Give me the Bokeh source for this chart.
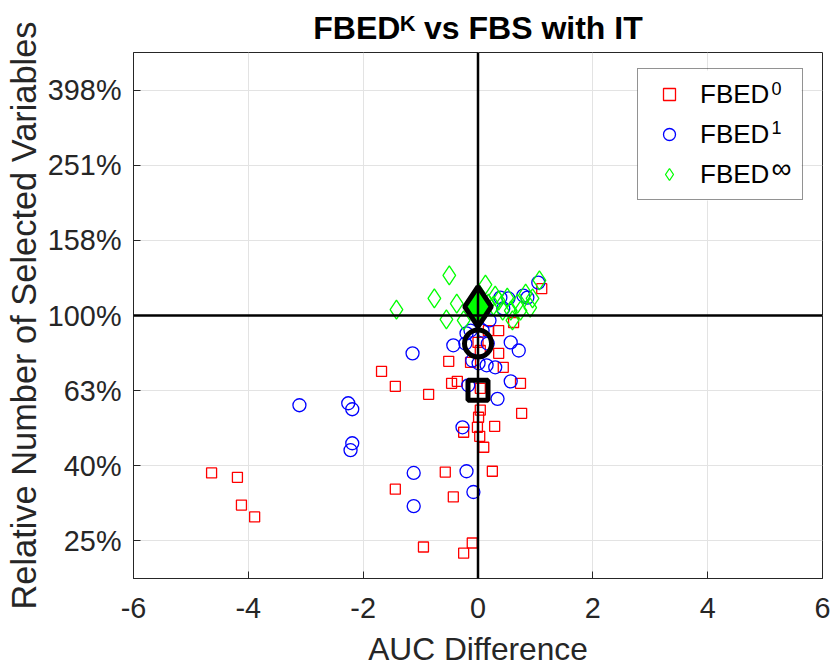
from bokeh.plotting import figure
from bokeh.models import (Range1d, FixedTicker, NumeralTickFormatter, Span, Legend,
                          LegendItem, Label, CustomJSTickFormatter, BoxAnnotation)
from bokeh.embed import file_html
from bokeh.resources import INLINE

FONT = "Liberation Sans"
DARK = "#262626"

# ---------------- data ----------------
x_ticks = [-6, -4, -2, 0, 2, 4, 6]
y_ticks = [10 ** -0.6, 10 ** -0.4, 10 ** -0.2, 1.0, 10 ** 0.2, 10 ** 0.4, 10 ** 0.6]
x_limits = [-6, 6]
y_limits = [10 ** -0.7, 10 ** 0.7]

title = "FBED\u1d37 vs FBS with IT"
x_label = "AUC Difference"
y_label = "Relative Number of Selected Variables"
legend_names = ["FBED", "FBED", "FBED"]
legend_sups = ["0", "1", "\u221e"]

fbed0_auc = [-4.64, -4.19, -4.12, -3.89, -1.68, -1.44, -0.86, -1.44, -0.95, -0.57,
             -0.43, -0.25, -0.10, 0.25, 0.10, -0.51, -0.36, -0.46, 0.74, 0.76,
             0.29, 0.01, -0.01, 0.03, -0.25, 1.11, 0.36, 0.44, 0.36, -0.13,
             0.62, 0.04, 0.18, 0.00, 0.04, 0.04]
fbed0_rel = [0.381, 0.371, 0.313, 0.291, 0.710, 0.648, 0.617, 0.345, 0.242, 0.383,
             0.329, 0.233, 0.248, 0.385, 0.446, 0.755, 0.668, 0.660, 0.660, 0.549,
             0.507, 0.536, 0.504, 0.477, 0.489, 1.179, 0.912, 0.728, 0.793, 0.750,
             0.958, 0.807, 0.912, 0.848, 0.640, 0.560]

fbed1_auc = [-3.11, -2.26, -2.19, -2.19, -2.22, -1.14, -1.12, -1.12, -0.20, -0.08,
             -0.27, 0.34, -0.43, 0.57, 0.71, 0.30, 0.57, 0.17, 0.01, 0.15,
             -0.10, -0.20, 0.20, 0.39, 0.53, 0.79, 0.86, 1.05, -0.22, 0.44,
             -0.13, 0.08, -0.17]
fbed1_rel = [0.577, 0.584, 0.563, 0.457, 0.438, 0.793, 0.381, 0.311, 0.385, 0.339,
             0.504, 0.600, 0.833, 0.848, 0.807, 0.728, 0.668, 0.842, 0.746, 0.737,
             0.759, 0.896, 0.970, 1.116, 1.110, 1.130, 1.116, 1.223, 0.842, 1.044,
             0.912, 0.912, 0.652]

fbedinf_auc = [-1.42, -0.76, -0.50, -0.37, -0.55, -0.25, 0.13, 1.07, 0.91, 0.83,
               0.57, 0.69, 0.30, 0.51, 0.60, 0.43, 0.27, 0.74, 0.36, 0.04,
               -0.04, 0.18, 0.95]
fbedinf_rel = [1.037, 1.110, 1.278, 1.076, 0.976, 0.970, 1.209, 1.240, 1.050, 1.144,
               1.031, 1.076, 1.130, 1.116, 0.970, 1.031, 1.063, 1.031, 1.096, 1.096,
               1.018, 1.076, 1.110]

summary_auc = [0.0, 0.0, 0.0]
summary_rel = [0.632, 0.842, 1.056]

# ---------------- figure ----------------
p = figure(width=830, height=671, output_backend="svg", toolbar_location=None,
           x_range=Range1d(*x_limits), y_range=Range1d(*y_limits),
           y_axis_type="log",
           min_border_left=133, min_border_right=8, min_border_top=52,
           min_border_bottom=93)
p.title.text = title
p.title.align = "center"
p.title.text_font = FONT
p.title.text_font_size = "32px"
p.title.text_font_style = "bold"
p.title.text_color = "black"
p.title.standoff = 14

p.background_fill_color = "white"
p.border_fill_color = "white"
p.outline_line_color = DARK
p.outline_line_width = 1

p.xaxis.ticker = FixedTicker(ticks=x_ticks, minor_ticks=[])
p.yaxis.ticker = FixedTicker(ticks=y_ticks, minor_ticks=[])
p.yaxis.formatter = NumeralTickFormatter(format="0%")
p.xaxis.formatter = CustomJSTickFormatter(code="return tick.toString();")

for ax in (p.xaxis[0], p.yaxis[0]):
    ax.axis_line_color = DARK
    ax.major_tick_line_color = DARK
    ax.major_tick_in = 7
    ax.major_tick_out = 0
    ax.minor_tick_line_color = None
    ax.major_label_text_font = FONT
    ax.major_label_text_font_size = "28.8px"
    ax.major_label_text_color = DARK
    ax.axis_label_text_font = FONT
    ax.axis_label_text_font_style = "normal"
    ax.axis_label_text_color = DARK

p.xaxis.axis_label = x_label
p.yaxis.axis_label = y_label
p.xaxis.axis_label_text_font_size = "31.7px"
p.yaxis.axis_label_text_font_size = "34.4px"
p.xaxis.major_label_standoff = 19
p.yaxis.major_label_standoff = 12
p.xaxis.axis_label_standoff = 10
p.yaxis.axis_label_standoff = 2

p.grid.grid_line_color = "#e3e3e3"
p.grid.grid_line_width = 1

r0 = p.scatter(fbed0_auc, fbed0_rel, marker="square", size=10, fill_color=None,
               line_color="#ff0000", line_width=1.3)
r1 = p.scatter(fbed1_auc, fbed1_rel, marker="circle", size=13, fill_color=None,
               line_color="#0000ff", line_width=1.3)
r2 = p.scatter(fbedinf_auc, fbedinf_rel, marker="diamond", size=19, fill_color=None,
               line_color="#00ff00", line_width=1.3)

p.scatter([summary_auc[0]], [summary_rel[0]], marker="square", size=20,
          fill_color=None, line_color="black", line_width=5)
p.scatter([summary_auc[1]], [summary_rel[1]], marker="circle", size=27,
          fill_color=None, line_color="black", line_width=5)
p.scatter([summary_auc[2]], [summary_rel[2]], marker="diamond", size=40,
          fill_color="#00ff00", line_color="black", line_width=5)

p.add_layout(Span(location=0, dimension="height", line_color="black", line_width=2.5))
p.add_layout(Span(location=1, dimension="width", line_color="black", line_width=2.5))

# white backing for the legend box (legend itself transparent so that the
# superscripts underneath it stay visible)
p.add_layout(BoxAnnotation(left=504, right=668, bottom=378, top=508,
                           left_units="screen", right_units="screen",
                           bottom_units="screen", top_units="screen",
                           fill_color="white", fill_alpha=1.0, line_color=None))

for txt, sx, sy, fs in [(legend_sups[0], 638, 490, "18px"),
                        (legend_sups[1], 638, 451, "18px"),
                        (legend_sups[2], 638, 410, "28px")]:
    p.add_layout(Label(x=sx, y=sy, x_units="screen", y_units="screen", text=txt,
                       text_font_size=fs, text_color="black",
                       text_baseline="middle", text_align="left"))

legend = Legend(items=[LegendItem(label=legend_names[0], renderers=[r0]),
                       LegendItem(label=legend_names[1], renderers=[r1]),
                       LegendItem(label=legend_names[2], renderers=[r2])],
                location=(504, 378), orientation="vertical",
                padding=8, spacing=6, margin=0,
                glyph_width=46, glyph_height=30, label_standoff=8,
                label_width=94, label_height=34,
                label_text_font=FONT, label_text_font_size="26px",
                label_text_color="black",
                border_line_color=DARK, border_line_width=1,
                background_fill_color=None, background_fill_alpha=0.0)
p.add_layout(legend)

open("out.html", "w").write(file_html(p, INLINE))
